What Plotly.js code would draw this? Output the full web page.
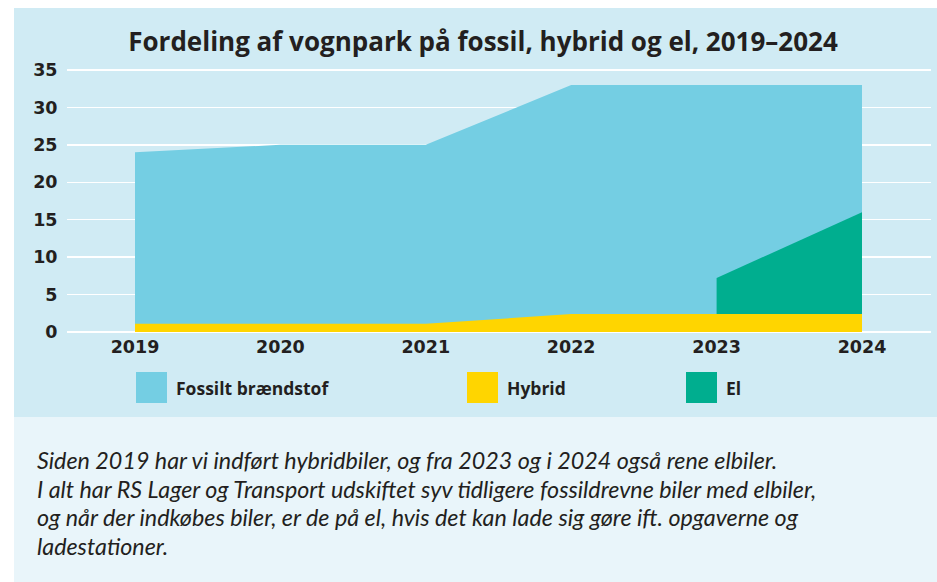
<!DOCTYPE html>
<html>
<head>
<meta charset="utf-8">
<script src="https://cdn.plot.ly/plotly-3.0.1.min.js"></script>
<style>
html,body{margin:0;padding:0;background:#ffffff;}
#chart{width:937px;height:582px;}
</style>
</head>
<body>
<div id="chart"></div>
<script>
// ---- data ----
const years = [2019, 2020, 2021, 2022, 2023, 2024];
const hybrid = [1.1, 1.1, 1.1, 2.4, 2.4, 2.4];
const el = [null, null, null, null, 4.8, 13.6];
const fossil = [22.9, 23.9, 23.9, 30.6, 25.8, 17.0];
const yTicks = [0, 5, 10, 15, 20, 25, 30, 35];
const seriesNames = ["Fossilt brændstof", "Hybrid", "El"];
const titleText = "Fordeling af vognpark på fossil, hybrid og el, 2019–2024";
const captionLines = [
  "Siden 2019 har vi indført hybridbiler, og fra 2023 og i 2024 også rene elbiler.",
  "I alt har RS Lager og Transport udskiftet syv tidligere fossildrevne biler med elbiler,",
  "og når der indkøbes biler, er de på el, hvis det kan lade sig gøre ift. opgaverne og",
  "ladestationer."
];

// ---- colours ----
const cFossil = "#74CEE3", cHybrid = "#FFD500", cEl = "#00AE8F";
const cPanel = "#D0EBF4", cCaption = "#E9F5FA", cText = "#231F20";

// stacked tops: hybrid at bottom, el above hybrid, fossil above all
const elTop = years.map((_, i) => el[i] == null ? null : hybrid[i] + el[i]);
const totalTop = years.map((_, i) => hybrid[i] + (el[i] || 0) + fossil[i]);
const elYears = years.filter((_, i) => el[i] != null);
const elTopVals = elTop.filter(v => v != null);

// ---- geometry (px -> paper) ----
const W = 937, H = 582;
const mL = 67, mR = 6, mT = 66, mB = 248;
const pw = W - mL - mR, ph = H - mT - mB;
const px = x => (x - mL) / pw;
const py = y => (H - mB - y) / ph;

const traces = [
  {x: years, y: totalTop, name: seriesNames[0], type: "scatter", mode: "lines",
   fill: "tozeroy", fillcolor: cFossil, line: {width: 0, color: cFossil}, showlegend: false, hoverinfo: "skip"},
  {x: elYears, y: elTopVals, name: seriesNames[2], type: "scatter", mode: "lines",
   fill: "tozeroy", fillcolor: cEl, line: {width: 0, color: cEl}, showlegend: false, hoverinfo: "skip"},
  {x: years, y: hybrid, name: seriesNames[1], type: "scatter", mode: "lines",
   fill: "tozeroy", fillcolor: cHybrid, line: {width: 0, color: cHybrid}, showlegend: false, hoverinfo: "skip"}
];

const shapes = [
  {type: "rect", xref: "paper", yref: "paper", x0: px(14), x1: px(940), y0: py(417), y1: py(8),
   fillcolor: cPanel, line: {width: 0}, layer: "below"},
  {type: "rect", xref: "paper", yref: "paper", x0: px(14), x1: px(940), y0: py(582), y1: py(417),
   fillcolor: cCaption, line: {width: 0}, layer: "below"}
];

const legendItems = [
  {x: 136, color: cFossil, label: seriesNames[0]},
  {x: 467, color: cHybrid, label: seriesNames[1]},
  {x: 686, color: cEl, label: seriesNames[2]}
];
const annotations = [];
legendItems.forEach(it => {
  shapes.push({type: "rect", xref: "paper", yref: "paper",
    x0: px(it.x), x1: px(it.x + 31), y0: py(403), y1: py(372),
    fillcolor: it.color, line: {width: 0}});
  annotations.push({xref: "paper", yref: "paper", x: px(it.x + 38), y: py(387.5),
    xanchor: "left", yanchor: "middle", showarrow: false, text: it.label,
    font: {family: "Open Sans", size: 17.5, color: cText, weight: 700}});
});
captionLines.forEach((t, i) => {
  annotations.push({xref: "paper", yref: "paper", x: px(35), y: py(460 + i * 28.7),
    xanchor: "left", yanchor: "middle", showarrow: false, text: t,
    font: {family: "Lato", size: 23.3, color: cText, style: "italic"}});
});

const tickFont = {family: "DejaVu Sans", size: 17.5, color: cText, weight: 700};

const layout = {
  width: W, height: H,
  margin: {l: mL, r: mR, t: mT, b: mB, pad: 0},
  paper_bgcolor: "#ffffff",
  plot_bgcolor: cPanel,
  title: {text: titleText, x: 483 / W, xanchor: "center", y: 1 - 42 / H, yanchor: "middle",
    font: {family: "Open Sans", size: 26, color: cText, weight: 700}},
  xaxis: {
    range: [2019 - 68 / 145.4, 2024 + 69 / 145.4],
    tickvals: years, ticktext: years.map(String),
    showgrid: false, zeroline: false, showline: false,
    ticks: "", ticklen: 0,
    tickfont: tickFont
  },
  yaxis: {
    range: [-(H - mB - 332) / 7.486, (332 - mT) / 7.486],
    tickvals: yTicks, ticktext: yTicks.map(String),
    showgrid: true, gridcolor: "#ffffff", gridwidth: 1.5,
    zeroline: false, showline: false,
    ticks: "outside", ticklen: 5, tickcolor: "rgba(0,0,0,0)",
    tickfont: tickFont
  },
  shapes: shapes,
  annotations: annotations,
  showlegend: false
};

Plotly.newPlot("chart", traces, layout, {staticPlot: true, displayModeBar: false});
</script>
</body>
</html>
